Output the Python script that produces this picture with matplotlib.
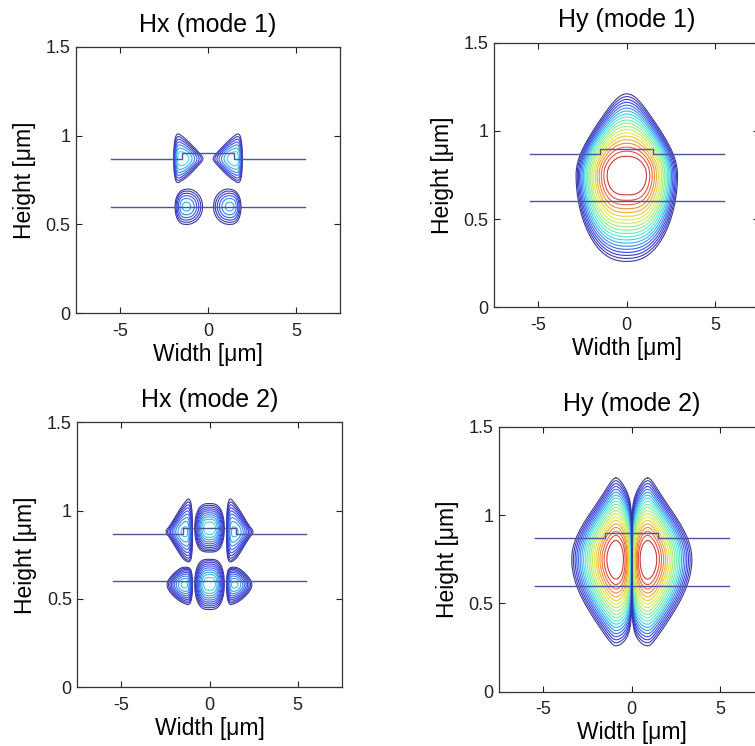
import numpy as np
import matplotlib.pyplot as plt
from matplotlib import colormaps

plt.rcParams['font.family'] = ['Liberation Sans', 'DejaVu Sans']
plt.rcParams['axes.unicode_minus'] = False

titles = ['Hx (mode 1)', 'Hy (mode 1)', 'Hx (mode 2)', 'Hy (mode 2)']
x_ticks = [-5, 0, 5]
x_ticklabels = ['-5', '0', '5']
y_ticks = [0, 0.5, 1, 1.5]
y_ticklabels = ['0', '0.5', '1', '1.5']

# waveguide outline [um]
wg_top_x = [-5.5, -1.5, -1.5, 1.5, 1.5, 5.5]
wg_top_y = [0.87, 0.87, 0.90, 0.90, 0.87, 0.87]
wg_bot_x = [-5.5, 5.5]
wg_bot_y = [0.60, 0.60]

# Hy contours: number of levels, innermost relative radius
hy_nlev = 20
hy_rmin = 0.23

# Hy mode 1: centre, half sizes (x, up, down), x exponent, taper (top, bottom)
hy1_center = [0.0, 0.75]
hy1_half = [2.87, 0.46, 0.49]
hy1_xpow = 3.1
hy1_taper = [3.2, 0.5]

# Hy mode 2: lobe peak (|x|, y), depth, half sizes (up, down)
hy2_peak = [0.9, 0.75]
hy2_depth = 5.3
hy2_half = [0.46, 0.49]
# taper outside the lobe (top, bottom) and inside it (top, bottom)
hy2_taper_out = [0.74, 0.5]
hy2_taper_in = [0.6, 0.15]
hy2_round = 0.35

# Hx mode 1 lobes: centre, widths (towards / away from x=0), height, amplitude, powers, taper
hx1_x0 = [-1.45, 1.45, -1.2, 1.2]
hx1_y0 = [0.87, 0.87, 0.60, 0.60]
hx1_sx_in = [0.88, 0.88, 0.72, 0.72]
hx1_sx_out = [0.43, 0.43, 0.58, 0.58]
hx1_p_in = [2, 2, 2, 2]
hx1_p_out = [4, 4, 3, 3]
hx1_sy = [0.092, 0.092, 0.08, 0.08]
hx1_amp = [1.0, -1.0, -0.75, 0.75]
hx1_taper = [-0.6, 0.6, 0.0, 0.0]
hx1_depth = 1.86
hx1_nlev = 7
hx1_rmin = 0.3

# Hx mode 2 lobes
hx2_x0 = [-1.45, 0.0, 1.45, -1.45, 0.0, 1.45]
hx2_y0 = [0.88, 0.90, 0.88, 0.58, 0.585, 0.58]
hx2_sx_in = [0.40, 0.61, 0.40, 0.40, 0.61, 0.40]
hx2_sx_out = [0.66, 0.61, 0.66, 0.62, 0.61, 0.62]
hx2_p_in = [4, 3, 4, 4, 3, 4]
hx2_p_out = [2, 3, 2, 2, 3, 2]
hx2_sy = [0.104, 0.086, 0.104, 0.068, 0.089, 0.068]
hx2_amp = [-0.75, 1.0, -0.75, 0.75, -1.0, 0.75]
hx2_taper = [0.8, 0.0, -0.8, 0.4, 0.0, -0.4]
hx2_depth = 2.65
hx2_nlev = 10
hx2_rmin = 0.25

wg_color = '#4b56a2'
jet = colormaps['jet']


def shade(t):
    c = np.array(jet(t))
    c[:3] = 0.7 * c[:3] + 0.3 * np.array([0.75, 0.75, 0.72])
    return c


def lobe_field(X, Y, x0, y0, sx_in, sx_out, p_in, p_out, sy, amp, taper):
    f = np.zeros_like(X)
    for i in range(len(x0)):
        dx = X - x0[i]
        toward = dx * (-np.sign(x0[i]) if x0[i] != 0 else 1.0) > 0
        xt = np.where(toward, np.abs(dx / sx_in[i]) ** p_in[i],
                      np.abs(dx / sx_out[i]) ** p_out[i])
        sy_eff = sy[i] * np.clip(1 + taper[i] * dx, 0.3, 3)
        f += amp[i] * np.exp(-xt - ((Y - y0[i]) / sy_eff) ** 2)
    return f


def radii(rmin, n):
    # slightly tighter spacing towards the outside
    t = np.linspace(0, 1, n) ** 0.85
    return rmin + (1 - rmin) * t


X, Y = np.meshgrid(np.linspace(-4.5, 4.5, 901), np.linspace(0, 1.5, 601))

# Hy mode 1
u = np.abs(X - hy1_center[0]) / hy1_half[0]
dy = Y - hy1_center[1]
v = np.where(dy > 0, dy / hy1_half[1], -dy / hy1_half[2])
tp = np.where(dy > 0, hy1_taper[0], hy1_taper[1])
F_hy1 = u ** hy1_xpow + (1 + tp * u ** 2) * v ** 2

# Hy mode 2
s = np.maximum(np.abs(X) / hy2_peak[0], 1e-9)
dy = Y - hy2_peak[1]
up = dy > 0
v = np.where(up, dy / hy2_half[0], -dy / hy2_half[1])
t_out = np.where(up, hy2_taper_out[0], hy2_taper_out[1])
t_in = np.where(up, hy2_taper_in[0], hy2_taper_in[1])
soft = np.sqrt((s - 1) ** 2 + hy2_round ** 2) - hy2_round
k = 1 + np.where(s > 1, t_out, t_in) * soft
F_hy2 = (-(np.log(s) - (s ** 2 - 1) / 2) + hy2_depth * k * v ** 2) / hy2_depth

# Hx modes (log of |field|)
G_hx1 = np.log(np.abs(lobe_field(X, Y, hx1_x0, hx1_y0, hx1_sx_in, hx1_sx_out,
                                 hx1_p_in, hx1_p_out, hx1_sy, hx1_amp,
                                 hx1_taper)) + 1e-12)
G_hx2 = np.log(np.abs(lobe_field(X, Y, hx2_x0, hx2_y0, hx2_sx_in, hx2_sx_out,
                                 hx2_p_in, hx2_p_out, hx2_sy, hx2_amp,
                                 hx2_taper)) + 1e-12)

fig = plt.figure(figsize=(7.55, 7.46), dpi=100)
positions = [
    [0.1007, 0.5804, 0.3497, 0.3566],
    [0.6547, 0.5881, 0.3510, 0.3547],
    [0.1024, 0.0787, 0.3502, 0.3552],
    [0.6613, 0.0728, 0.3510, 0.3552],
]
axes = [fig.add_axes(p) for p in positions]

hy_levels = radii(hy_rmin, hy_nlev) ** 2
hy_colors = [shade(t) for t in np.linspace(0.93, 0.0, hy_nlev)]

axes[1].contour(X, Y, F_hy1, levels=hy_levels, colors=hy_colors, linewidths=0.8)
axes[3].contour(X, Y, F_hy2, levels=hy_levels, colors=hy_colors, linewidths=0.8)

for ax, G, depth, n, rmin in [(axes[0], G_hx1, hx1_depth, hx1_nlev, hx1_rmin),
                              (axes[2], G_hx2, hx2_depth, hx2_nlev, hx2_rmin)]:
    lev = np.sort(-depth * radii(rmin, n) ** 2)
    cols = [shade(t) for t in np.linspace(0.0, 0.34, n)]
    ax.contour(X, Y, G, levels=lev, colors=cols, linewidths=0.8)

for ax, title in zip(axes, titles):
    ax.plot(wg_top_x, wg_top_y, color=wg_color, lw=1.0)
    ax.plot(wg_bot_x, wg_bot_y, color=wg_color, lw=1.0)
    ax.set_xlim(-7.5, 7.5)
    ax.set_ylim(0, 1.5)
    ax.set_xticks(x_ticks)
    ax.set_xticklabels(x_ticklabels)
    ax.set_yticks(y_ticks)
    ax.set_yticklabels(y_ticklabels)
    ax.tick_params(direction='in', top=True, right=True, length=4, width=0.8,
                   labelsize=13, colors='#222222')
    ax.tick_params(axis='x', pad=7)
    ax.tick_params(axis='y', pad=4)
    for sp in ax.spines.values():
        sp.set_color('#333333')
        sp.set_linewidth(0.9)
    ax.set_title(title, fontsize=18, pad=11)
    ax.set_xlabel('Width [μm]', fontsize=16.5, labelpad=2)
    ax.set_ylabel('Height [μm]', fontsize=16.5, labelpad=7)

fig.savefig('out.png', dpi=100)
